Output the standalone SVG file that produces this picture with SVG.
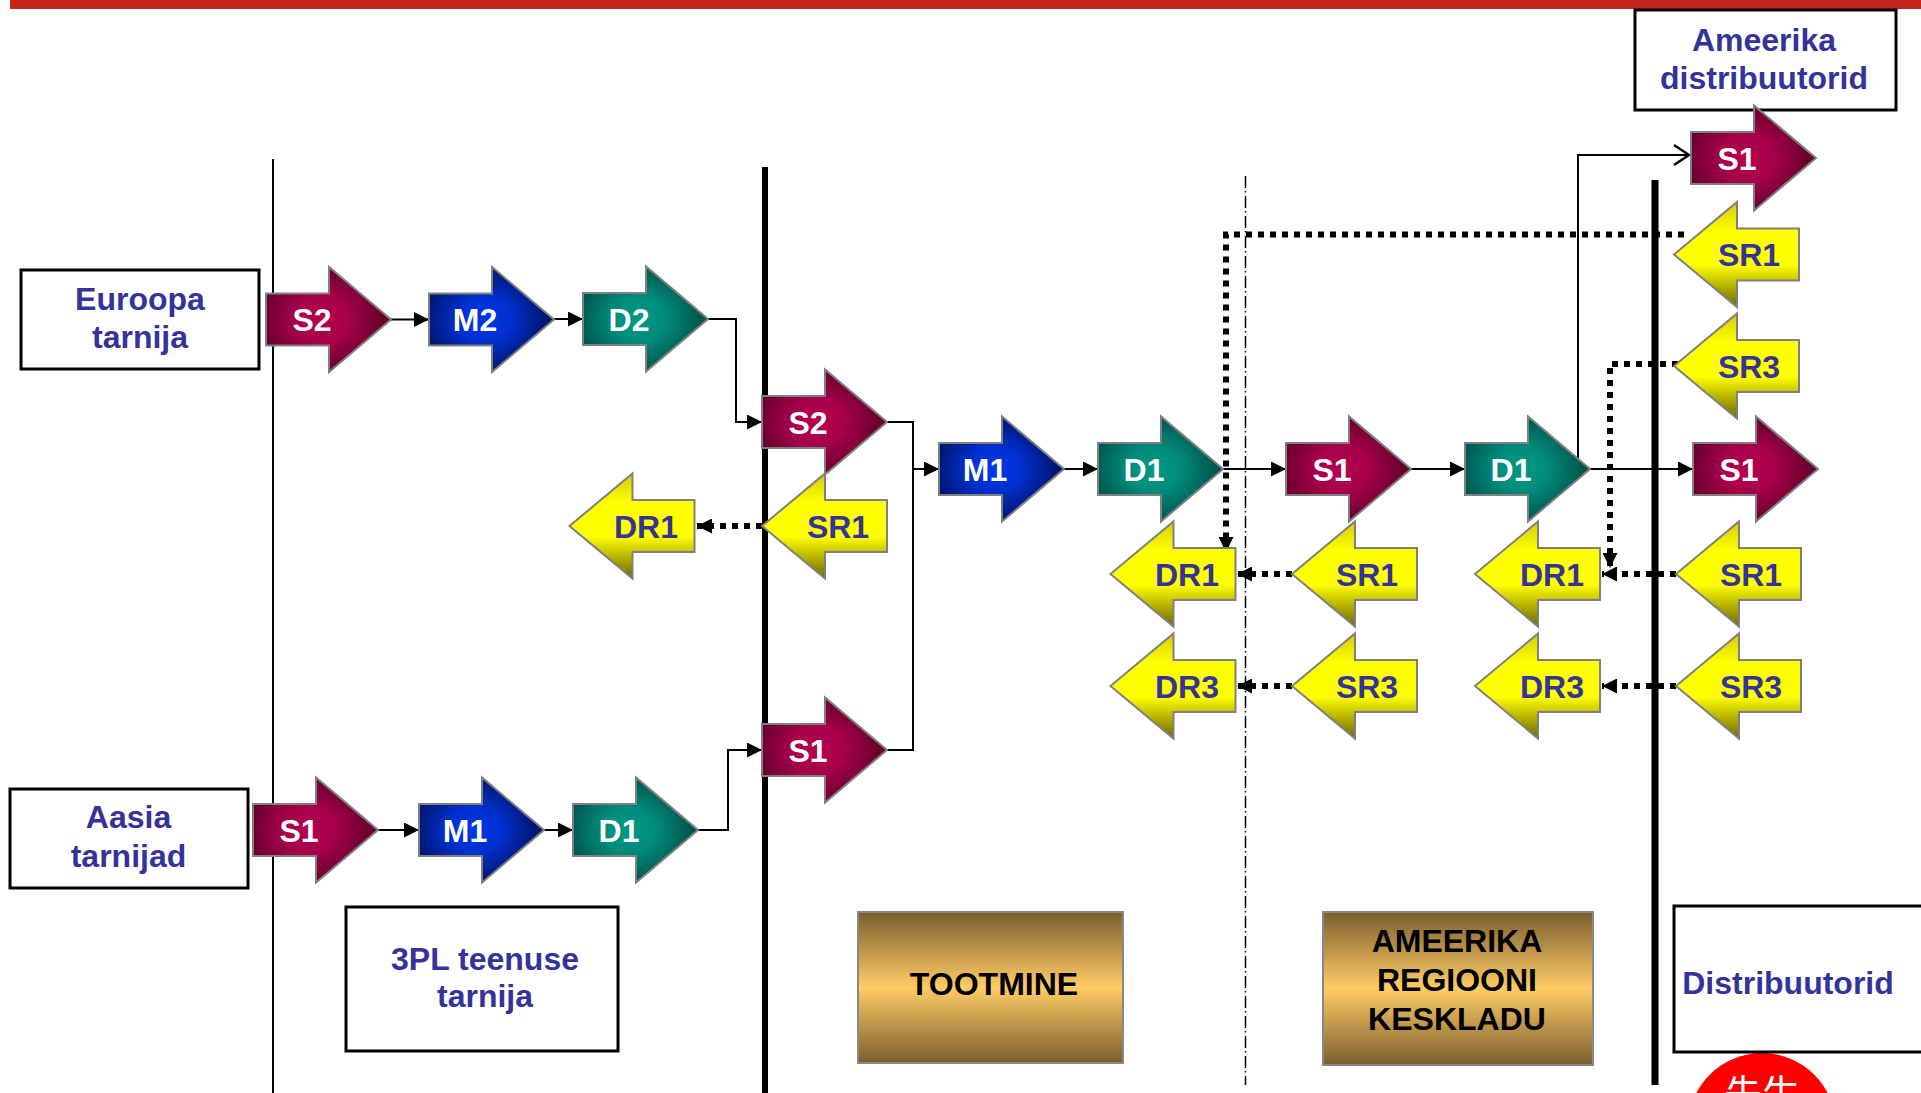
<svg xmlns="http://www.w3.org/2000/svg" xmlns:xlink="http://www.w3.org/1999/xlink" width="1921" height="1093" viewBox="0 0 1921 1093">
<style>
.arr{stroke:#808080;stroke-width:2}
.wt{font-family:"Liberation Sans",Arial,sans-serif;font-weight:bold;font-size:32px;fill:#ffffff;text-anchor:middle}
.bt{font-family:"Liberation Sans",Arial,sans-serif;font-weight:bold;font-size:32px;fill:#333399;text-anchor:middle}
.kt{font-family:"Liberation Sans",Arial,sans-serif;font-weight:bold;font-size:32px;fill:#000000;text-anchor:middle}
.box{fill:#ffffff;stroke:#000000;stroke-width:3}
.gold{fill:url(#gGold);stroke:#888888;stroke-width:2}
.ln{fill:none;stroke:#000000;stroke-width:2}
.dot{fill:none;stroke:#000000;stroke-width:6;stroke-dasharray:6 6}
</style>
<defs>
<path id="ra" d="M0,-26 H63 V-52.5 L125,0 L63,52.5 V26 H0 Z"/>
<path id="la" d="M0,0 L63,-52.5 V-26 H125 V26 H63 V52.5 Z"/>
<radialGradient id="gS" cx="0.45" cy="0.5" r="0.6">
<stop offset="0" stop-color="#b4004f"/><stop offset="0.35" stop-color="#a8004a"/><stop offset="1" stop-color="#4e0022"/>
</radialGradient>
<radialGradient id="gM" cx="0.45" cy="0.5" r="0.6">
<stop offset="0" stop-color="#0038e8"/><stop offset="0.35" stop-color="#0030d0"/><stop offset="1" stop-color="#000c48"/>
</radialGradient>
<radialGradient id="gD" cx="0.45" cy="0.5" r="0.6">
<stop offset="0" stop-color="#009886"/><stop offset="0.35" stop-color="#008c7c"/><stop offset="1" stop-color="#00423a"/>
</radialGradient>
<linearGradient id="gY" x1="0" y1="0" x2="0" y2="1">
<stop offset="0" stop-color="#d6ce00"/><stop offset="0.28" stop-color="#ffff00"/><stop offset="0.6" stop-color="#ffff00"/><stop offset="1" stop-color="#6e6600"/>
</linearGradient>
<linearGradient id="gGold" x1="0" y1="0" x2="0" y2="1">
<stop offset="0" stop-color="#7a5e2e"/><stop offset="0.5" stop-color="#ffcc66"/><stop offset="1" stop-color="#7a5e2e"/>
</linearGradient>
<marker id="ah" markerUnits="userSpaceOnUse" markerWidth="15" markerHeight="15" refX="15" refY="7.5" orient="auto">
<path d="M0,0 L15,7.5 L0,15 Z" fill="#000000"/>
</marker>
<marker id="oh" markerUnits="userSpaceOnUse" markerWidth="18" markerHeight="22" refX="17" refY="11" orient="auto">
<path d="M2,1 L17,11 L2,21" fill="none" stroke="#000000" stroke-width="2.5"/>
</marker>
</defs>

<rect x="0" y="0" width="1921" height="1093" fill="#ffffff"/>
<rect x="10" y="0" width="1911" height="9" fill="#c4261d"/>

<g id="separators">
<line x1="273" y1="159" x2="273" y2="1093" stroke="#000" stroke-width="2"/>
<line x1="765" y1="167" x2="765" y2="1093" stroke="#000" stroke-width="6"/>
<line x1="1245.5" y1="176" x2="1245.5" y2="1085" stroke="#000" stroke-width="1.5" stroke-dasharray="12 3 1.5 3.5"/>
<line x1="1655" y1="180" x2="1655" y2="1085" stroke="#000" stroke-width="7"/>
</g>

<g id="connectors">
<path class="ln" d="M391,319.5 H429" marker-end="url(#ah)"/>
<path class="ln" d="M554,319 H583" marker-end="url(#ah)"/>
<path class="ln" d="M708,319 H736 V422 H762" marker-end="url(#ah)"/>
<path class="ln" d="M378,830 H419" marker-end="url(#ah)"/>
<path class="ln" d="M544,830 H573" marker-end="url(#ah)"/>
<path class="ln" d="M698,830 H728 V750 H762" marker-end="url(#ah)"/>
<path class="ln" d="M887,422 H913 V469 H939" marker-end="url(#ah)"/>
<path class="ln" d="M887,750 H913 V469"/>
<path class="ln" d="M1064,469 H1098" marker-end="url(#ah)"/>
<path class="ln" d="M1223,469 H1286" marker-end="url(#ah)"/>
<path class="ln" d="M1411,469 H1465" marker-end="url(#ah)"/>
<path class="ln" d="M1590,469 H1693" marker-end="url(#ah)"/>
<path class="ln" d="M1578,466 V155 H1689" marker-end="url(#oh)"/>
<path class="dot" d="M762,526 H697" marker-end="url(#ah)"/>
<path class="dot" d="M1684,234.5 H1226 V552" marker-end="url(#ah)"/>
<path class="dot" d="M1690,364 H1610 V568" marker-end="url(#ah)"/>
<path class="dot" d="M1292,574 H1237" marker-end="url(#ah)"/>
<path class="dot" d="M1292,686 H1237" marker-end="url(#ah)"/>
<path class="dot" d="M1676,574 H1602" marker-end="url(#ah)"/>
<path class="dot" d="M1676,686 H1602" marker-end="url(#ah)"/>
</g>

<g id="euroopa"><rect class="box" x="21" y="270" width="238" height="99"/><text class="bt" x="140" y="310">Euroopa</text><text class="bt" x="140" y="348">tarnija</text></g>
<g id="aasia"><rect class="box" x="10" y="789" width="238" height="99"/><text class="bt" x="128.5" y="828">Aasia</text><text class="bt" x="128.5" y="867">tarnijad</text></g>
<g id="ameerika-distributorid"><rect class="box" x="1635" y="10" width="261" height="100"/><text class="bt" x="1764" y="51">Ameerika</text><text class="bt" x="1764" y="89">distribuutorid</text></g>
<g id="tpl"><rect class="box" x="346" y="907" width="272" height="144"/><text class="bt" x="485" y="970">3PL teenuse</text><text class="bt" x="485" y="1007">tarnija</text></g>
<g id="tootmine"><rect class="gold" x="858" y="912" width="265" height="151"/><text class="kt" x="994" y="995">TOOTMINE</text></g>
<g id="keskladu"><rect class="gold" x="1323" y="912" width="270" height="153"/><text class="kt" x="1457" y="952">AMEERIKA</text><text class="kt" x="1457" y="991">REGIOONI</text><text class="kt" x="1457" y="1030">KESKLADU</text></g>
<g id="stamp"><circle cx="1762" cy="1127" r="74" fill="#ff0000"/><text x="1762" y="1107" font-family="'Noto Sans CJK SC',sans-serif" font-size="38" fill="#ffffff" text-anchor="middle">先生</text></g>
<g id="distribuutorid"><rect class="box" x="1674" y="906" width="260" height="146"/><text class="bt" x="1788" y="994">Distribuutorid</text></g>

<g id="eu-s2"><use href="#ra" class="arr" fill="url(#gS)" x="266" y="319.5"/><text class="wt" x="312" y="331">S2</text></g>
<g id="eu-m2"><use href="#ra" class="arr" fill="url(#gM)" x="429" y="319.5"/><text class="wt" x="475" y="331">M2</text></g>
<g id="eu-d2"><use href="#ra" class="arr" fill="url(#gD)" x="583" y="319"/><text class="wt" x="629" y="330.5">D2</text></g>
<g id="as-s1"><use href="#ra" class="arr" fill="url(#gS)" x="253" y="830"/><text class="wt" x="299" y="841.5">S1</text></g>
<g id="as-m1"><use href="#ra" class="arr" fill="url(#gM)" x="419" y="830"/><text class="wt" x="465" y="841.5">M1</text></g>
<g id="as-d1"><use href="#ra" class="arr" fill="url(#gD)" x="573" y="830"/><text class="wt" x="619" y="841.5">D1</text></g>
<g id="tpl-s2"><use href="#ra" class="arr" fill="url(#gS)" x="762" y="422"/><text class="wt" x="808" y="433.5">S2</text></g>
<g id="tpl-s1"><use href="#ra" class="arr" fill="url(#gS)" x="762" y="750"/><text class="wt" x="808" y="761.5">S1</text></g>
<g id="tpl-sr1"><use href="#la" class="arr" fill="url(#gY)" x="762" y="526"/><text class="bt" x="838" y="537.5">SR1</text></g>
<g id="tpl-dr1"><use href="#la" class="arr" fill="url(#gY)" x="569.5" y="526"/><text class="bt" x="646" y="537.5">DR1</text></g>
<g id="pr-m1"><use href="#ra" class="arr" fill="url(#gM)" x="939" y="469"/><text class="wt" x="985" y="480.5">M1</text></g>
<g id="pr-d1"><use href="#ra" class="arr" fill="url(#gD)" x="1098" y="469"/><text class="wt" x="1144" y="480.5">D1</text></g>
<g id="pr-dr1"><use href="#la" class="arr" fill="url(#gY)" x="1110.5" y="574"/><text class="bt" x="1187" y="585.5">DR1</text></g>
<g id="pr-dr3"><use href="#la" class="arr" fill="url(#gY)" x="1110.5" y="686"/><text class="bt" x="1187" y="697.5">DR3</text></g>
<g id="rg-s1"><use href="#ra" class="arr" fill="url(#gS)" x="1286" y="469"/><text class="wt" x="1332" y="480.5">S1</text></g>
<g id="rg-d1"><use href="#ra" class="arr" fill="url(#gD)" x="1465" y="469"/><text class="wt" x="1511" y="480.5">D1</text></g>
<g id="rg-sr1"><use href="#la" class="arr" fill="url(#gY)" x="1292" y="574"/><text class="bt" x="1367" y="585.5">SR1</text></g>
<g id="rg-sr3"><use href="#la" class="arr" fill="url(#gY)" x="1292" y="686"/><text class="bt" x="1367" y="697.5">SR3</text></g>
<g id="rg-dr1"><use href="#la" class="arr" fill="url(#gY)" x="1475" y="574"/><text class="bt" x="1552" y="585.5">DR1</text></g>
<g id="rg-dr3"><use href="#la" class="arr" fill="url(#gY)" x="1475" y="686"/><text class="bt" x="1552" y="697.5">DR3</text></g>
<g id="ds-s1-top"><use href="#ra" class="arr" fill="url(#gS)" x="1691" y="158"/><text class="wt" x="1737" y="169.5">S1</text></g>
<g id="ds-sr1-top"><use href="#la" class="arr" fill="url(#gY)" x="1674" y="254.5"/><text class="bt" x="1749" y="266">SR1</text></g>
<g id="ds-sr3-top"><use href="#la" class="arr" fill="url(#gY)" x="1674" y="366"/><text class="bt" x="1749" y="377.5">SR3</text></g>
<g id="ds-s1"><use href="#ra" class="arr" fill="url(#gS)" x="1693" y="469"/><text class="wt" x="1739" y="480.5">S1</text></g>
<g id="ds-sr1"><use href="#la" class="arr" fill="url(#gY)" x="1676" y="574"/><text class="bt" x="1751" y="585.5">SR1</text></g>
<g id="ds-sr3"><use href="#la" class="arr" fill="url(#gY)" x="1676" y="686"/><text class="bt" x="1751" y="697.5">SR3</text></g>
</svg>
